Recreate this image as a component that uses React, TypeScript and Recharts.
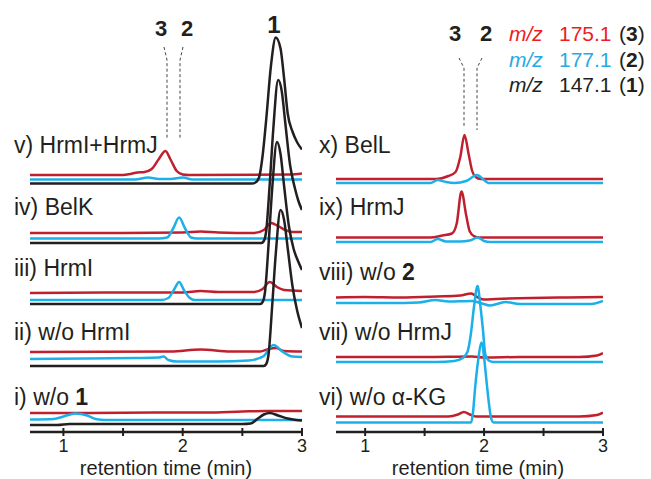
import React from "react";
import { LineChart, Line, XAxis, YAxis } from "recharts";

// retention time (min) vs. intensity above each trace's own baseline
const vRed = [[0.72, 0], [1.5, 0], [1.56, 1], [1.62, 2.5], [1.68, 3], [1.74, 6], [1.8, 16], [1.855, 24], [1.9, 15], [1.95, 4], [2.0, 0.5], [2.05, 0], [2.9, 0.5], [3, 1.5]];
const vBlue = [[0.72, 0], [1.6, 0], [1.71, 2], [1.8, 0.5], [1.9, 0.5], [2.0, 2], [2.08, 0], [3, 0]];
const vBlack = [[0.72, 0], [2.58, 0], [2.61, 1], [2.64, 6], [2.67, 28], [2.7, 64], [2.74, 118], [2.78, 146], [2.82, 135], [2.85, 105], [2.88, 70], [2.92, 52], [2.96, 41], [3, 34]];
const ivRed = [[0.72, 0], [1.5, 0], [2.0, 0.5], [2.15, 1.5], [2.3, 0.5], [2.6, 0], [2.68, 3], [2.74, 10], [2.8, 7], [2.86, 3], [2.92, 1], [3, 1]];
const ivBlue = [[0.72, 0], [1.8, 0], [1.87, 1], [1.92, 10], [1.97, 21], [2.02, 10], [2.07, 1], [2.12, 0], [3, 0]];
const ivBlack = [[0.72, 0], [2.66, 0], [2.68, 2], [2.7, 12], [2.73, 60], [2.76, 115], [2.8, 163], [2.83, 152], [2.86, 120], [2.9, 78], [2.94, 55], [2.97, 42], [3, 33]];
const iiiRed = [[0.72, 0], [1.5, 0.5], [2.0, 0.5], [2.15, 2], [2.3, 1], [2.6, 1], [2.67, 4], [2.73, 11], [2.79, 6], [2.85, 3], [3, 2]];
const iiiBlue = [[0.72, 0], [1.82, 0], [1.88, 2], [1.93, 11], [1.97, 18], [2.01, 10], [2.06, 2], [2.1, 0], [3, 0]];
const iiiBlack = [[0.72, 0], [2.65, 0], [2.67, 2], [2.69, 12], [2.72, 60], [2.75, 115], [2.79, 162], [2.82, 150], [2.85, 118], [2.89, 78], [2.93, 55], [2.97, 42], [3, 34]];
const iiRed = [[0.72, 0], [1.9, 0.5], [2.15, 2.5], [2.4, 0.5], [2.65, 0.5], [2.72, 3], [2.78, 4], [2.85, 1], [3, 0.5]];
const iiBlue = [[0.72, -1], [1.2, -0.5], [1.6, 0], [1.8, 0.5], [1.84, 1.5], [1.88, -2], [1.95, -3.5], [2.3, -3.5], [2.55, -2.5], [2.62, -1], [2.68, 2], [2.76, 13], [2.84, 6], [2.92, 1.5], [3, 1]];
const iiBlack = [[0.72, 0], [2.68, 0], [2.7, 2], [2.72, 12], [2.75, 60], [2.78, 112], [2.82, 156], [2.85, 146], [2.88, 118], [2.92, 80], [2.96, 55], [3, 38]];
const iRed = [[0.72, 0], [1.2, 0], [1.8, 0.5], [2.2, 0.5], [2.5, 1.5], [2.7, 2], [3, 2]];
const iBlue = [[0.72, 0], [0.92, 0.5], [1.0, 3], [1.1, 6], [1.2, 4], [1.27, 0.5], [1.35, -0.5], [3, -0.5]];
const iBlack = [[0.72, -0.5], [0.95, -0.5], [1.05, 0.5], [2.5, 0.5], [2.57, 1], [2.63, 6], [2.68, 10], [2.73, 11.5], [2.8, 9], [2.88, 6], [2.95, 4.5], [3, 4]];

const xRed = [[0.755, 0], [1.6, 0], [1.7, 3], [1.76, 7], [1.8, 22], [1.835, 44], [1.87, 25], [1.9, 8], [1.93, 2], [1.97, 0], [3, 0]];
const xBlue = [[0.755, 0], [1.55, 0], [1.61, 3], [1.68, 1], [1.75, 0], [1.85, 2], [1.94, 8], [2.0, 3], [2.04, 0], [3, 0]];
const ixRed = [[0.755, 0], [1.55, 0], [1.65, 2], [1.73, 4], [1.77, 14], [1.81, 46], [1.85, 22], [1.88, 6], [1.92, 1], [1.96, 0], [3, 0]];
const ixBlue = [[0.755, 0], [1.55, 0], [1.61, 3], [1.68, 0.5], [1.8, 0.5], [1.88, 1.5], [1.945, 4.5], [2.0, 1], [2.05, 0], [3, 0]];
const viiiRed = [[0.755, 0], [1.0, 0.5], [1.3, 0], [1.6, 1], [1.8, 2], [1.89, 4], [1.95, 0], [2.0, -2], [2.1, -1.5], [2.4, -0.5], [2.7, 0], [3, 0.5]];
const viiiBlue = [[0.755, 0], [1.2, 0], [1.45, 0.5], [1.59, 3], [1.7, 1.5], [1.9, 2], [1.97, 0], [2.05, -2.5], [2.18, 1], [2.3, -1], [2.7, -1], [2.9, -1], [3, 2]];
const viiRed = [[0.755, 0], [1.5, 0], [1.9, 0.5], [2.0, -0.5], [2.3, 0], [2.8, 0], [2.95, 1.5], [3, 4]];
const viiBlue = [[0.755, 0], [1.6, 0], [1.75, 1], [1.82, 4], [1.86, 10], [1.89, 29], [1.915, 55], [1.945, 76], [1.97, 55], [1.99, 33], [2.01, 8], [2.04, 1.5], [2.08, 0], [3, 0]];
const viRed = [[0.755, 0], [1.7, 0], [1.78, 2], [1.83, 4.5], [1.88, 2], [1.93, 0], [2.8, 0], [2.95, 1.5], [3, 4]];
const viBlue = [[0.755, 0], [1.89, 0], [1.905, 8], [1.925, 35], [1.95, 62], [1.98, 80], [2.0, 65], [2.02, 42], [2.04, 20], [2.06, 4], [2.08, 0], [3, 0]];

const timeTicks = [1, 1.5, 2, 2.5, 3];

const RED = "#c0202e";
const BLUE = "#1cb0ea";
const INK = "#231f20";
const FONT = "'Liberation Sans', Arial, sans-serif";

// stacking offsets (layout only)
const H = 432;
const leftTraces = [
  { pts: vRed, base: 257, color: RED }, { pts: vBlue, base: 252.5, color: BLUE },
  { pts: ivRed, base: 199, color: RED }, { pts: ivBlue, base: 193.5, color: BLUE },
  { pts: iiiRed, base: 139, color: RED }, { pts: iiiBlue, base: 132, color: BLUE },
  { pts: iiRed, base: 80, color: RED }, { pts: iiBlue, base: 74, color: BLUE },
  { pts: iRed, base: 19, color: RED }, { pts: iBlue, base: 12.5, color: BLUE },
  { pts: iBlack, base: 7.5, color: INK }, { pts: iiBlack, base: 66, color: INK },
  { pts: iiiBlack, base: 128, color: INK }, { pts: ivBlack, base: 189, color: INK },
  { pts: vBlack, base: 248.5, color: INK },
];
const rightTraces = [
  { pts: xRed, base: 253, color: RED }, { pts: xBlue, base: 249, color: BLUE },
  { pts: ixRed, base: 194.5, color: RED }, { pts: ixBlue, base: 190, color: BLUE },
  { pts: viiiRed, base: 134.5, color: RED }, { pts: viiiBlue, base: 129, color: BLUE },
  { pts: viiRed, base: 75, color: RED }, { pts: viRed, base: 15.5, color: RED },
  { pts: viiBlue, base: 70, color: BLUE }, { pts: viBlue, base: 9.5, color: BLUE },
];

const toPts = (arr: number[][], base: number) => arr.map(([t, v]) => ({ t, y: base + v }));

const TimeTick = (props: any) => {
  const { x, y, payload } = props;
  return (
    <g>
      <line x1={x} x2={x} y1={y - 4} y2={y + 4} stroke={INK} strokeWidth={2} />
      {Number.isInteger(payload.value) && (
        <text x={x} y={y + 14} textAnchor="middle" dominantBaseline="central" fontSize={18} fill={INK} fontFamily={FONT}>
          {payload.value}
        </text>
      )}
    </g>
  );
};

function Panel({ traces, domain, left, width, margin }: any) {
  return (
    <div style={{ position: "absolute", left, top: 0 }}>
      <LineChart width={width} height={479} margin={margin}>
        <XAxis
          type="number"
          dataKey="t"
          domain={domain}
          ticks={timeTicks}
          allowDataOverflow
          height={47}
          tickSize={0}
          tickMargin={0}
          tick={<TimeTick />}
          axisLine={{ stroke: INK, strokeWidth: 2.5 }}
        />
        <YAxis hide type="number" domain={[0, H]} allowDataOverflow />
        {traces.map((tr: any, i: number) => (
          <Line
            key={i}
            data={toPts(tr.pts, tr.base)}
            dataKey="y"
            type="monotone"
            dot={false}
            stroke={tr.color}
            strokeWidth={2.5}
            isAnimationActive={false}
          />
        ))}
      </LineChart>
    </div>
  );
}

const leftLabels = [
  { y: 145, text: <>v) HrmI+HrmJ</> },
  { y: 207, text: <>iv) BelK</> },
  { y: 268, text: <>iii) HrmI</> },
  { y: 332, text: <>ii) w/o HrmI</> },
  { y: 397, text: <>i) w/o <tspan fontWeight="bold">1</tspan></> },
];
const rightLabels = [
  { y: 145, text: <>x) BelL</> },
  { y: 207, text: <>ix) HrmJ</> },
  { y: 272, text: <>viii) w/o <tspan fontWeight="bold">2</tspan></> },
  { y: 332, text: <>vii) w/o HrmJ</> },
  { y: 397, text: <>vi) w/o α-KG</> },
];

export default function App() {
  return (
    <div style={{ position: "absolute", left: 0, top: 0, width: 651, height: 479, background: "#fff", fontFamily: FONT }}>
      <Panel traces={leftTraces} domain={[0.72, 3]} left={0} width={320} margin={{ top: 0, right: 18, left: 30, bottom: 0 }} />
      <Panel traces={rightTraces} domain={[0.755, 3]} left={320} width={331} margin={{ top: 0, right: 48, left: 16, bottom: 0 }} />
      <svg width={651} height={479} style={{ position: "absolute", left: 0, top: 0, pointerEvents: "none" }} fontFamily={FONT} fill={INK}>
        {leftLabels.map((l, i) => (
          <text key={"l" + i} x={14} y={l.y} fontSize={23} dominantBaseline="central">{l.text}</text>
        ))}
        {rightLabels.map((l, i) => (
          <text key={"r" + i} x={319} y={l.y} fontSize={23} dominantBaseline="central">{l.text}</text>
        ))}
        <text x={166} y={468} fontSize={20} textAnchor="middle" dominantBaseline="central">retention time (min)</text>
        <text x={478} y={468} fontSize={20} textAnchor="middle" dominantBaseline="central">retention time (min)</text>

        <g fontWeight="bold" textAnchor="middle" dominantBaseline="central">
          <text x={161} y={28} fontSize={22}>3</text>
          <text x={187} y={28} fontSize={22}>2</text>
          <text x={274} y={24} fontSize={24}>1</text>
          <text x={455} y={33} fontSize={22}>3</text>
          <text x={486} y={33} fontSize={22}>2</text>
        </g>
        <g stroke="#444" strokeWidth={1} strokeDasharray="3 2.5" fill="none">
          <path d="M164 47 L167 60 L167 138" />
          <path d="M183 47 L180 60 L180 138" />
          <path d="M459 58 L464 68 L464 128" />
          <path d="M482 58 L477 68 L477 130" />
        </g>

        <g fontSize={21} dominantBaseline="central">
          <text x={509} y={33} fill="#ed1c24" fontStyle="italic">m/z</text>
          <text x={559} y={33} fill="#ed1c24">175.1</text>
          <text x={619} y={33}>(<tspan fontWeight="bold">3</tspan>)</text>
          <text x={509} y={59} fill="#27aae1" fontStyle="italic">m/z</text>
          <text x={559} y={59} fill="#27aae1">177.1</text>
          <text x={619} y={59}>(<tspan fontWeight="bold">2</tspan>)</text>
          <text x={509} y={84} fontStyle="italic">m/z</text>
          <text x={559} y={84}>147.1</text>
          <text x={619} y={84}>(<tspan fontWeight="bold">1</tspan>)</text>
        </g>
      </svg>
    </div>
  );
}
